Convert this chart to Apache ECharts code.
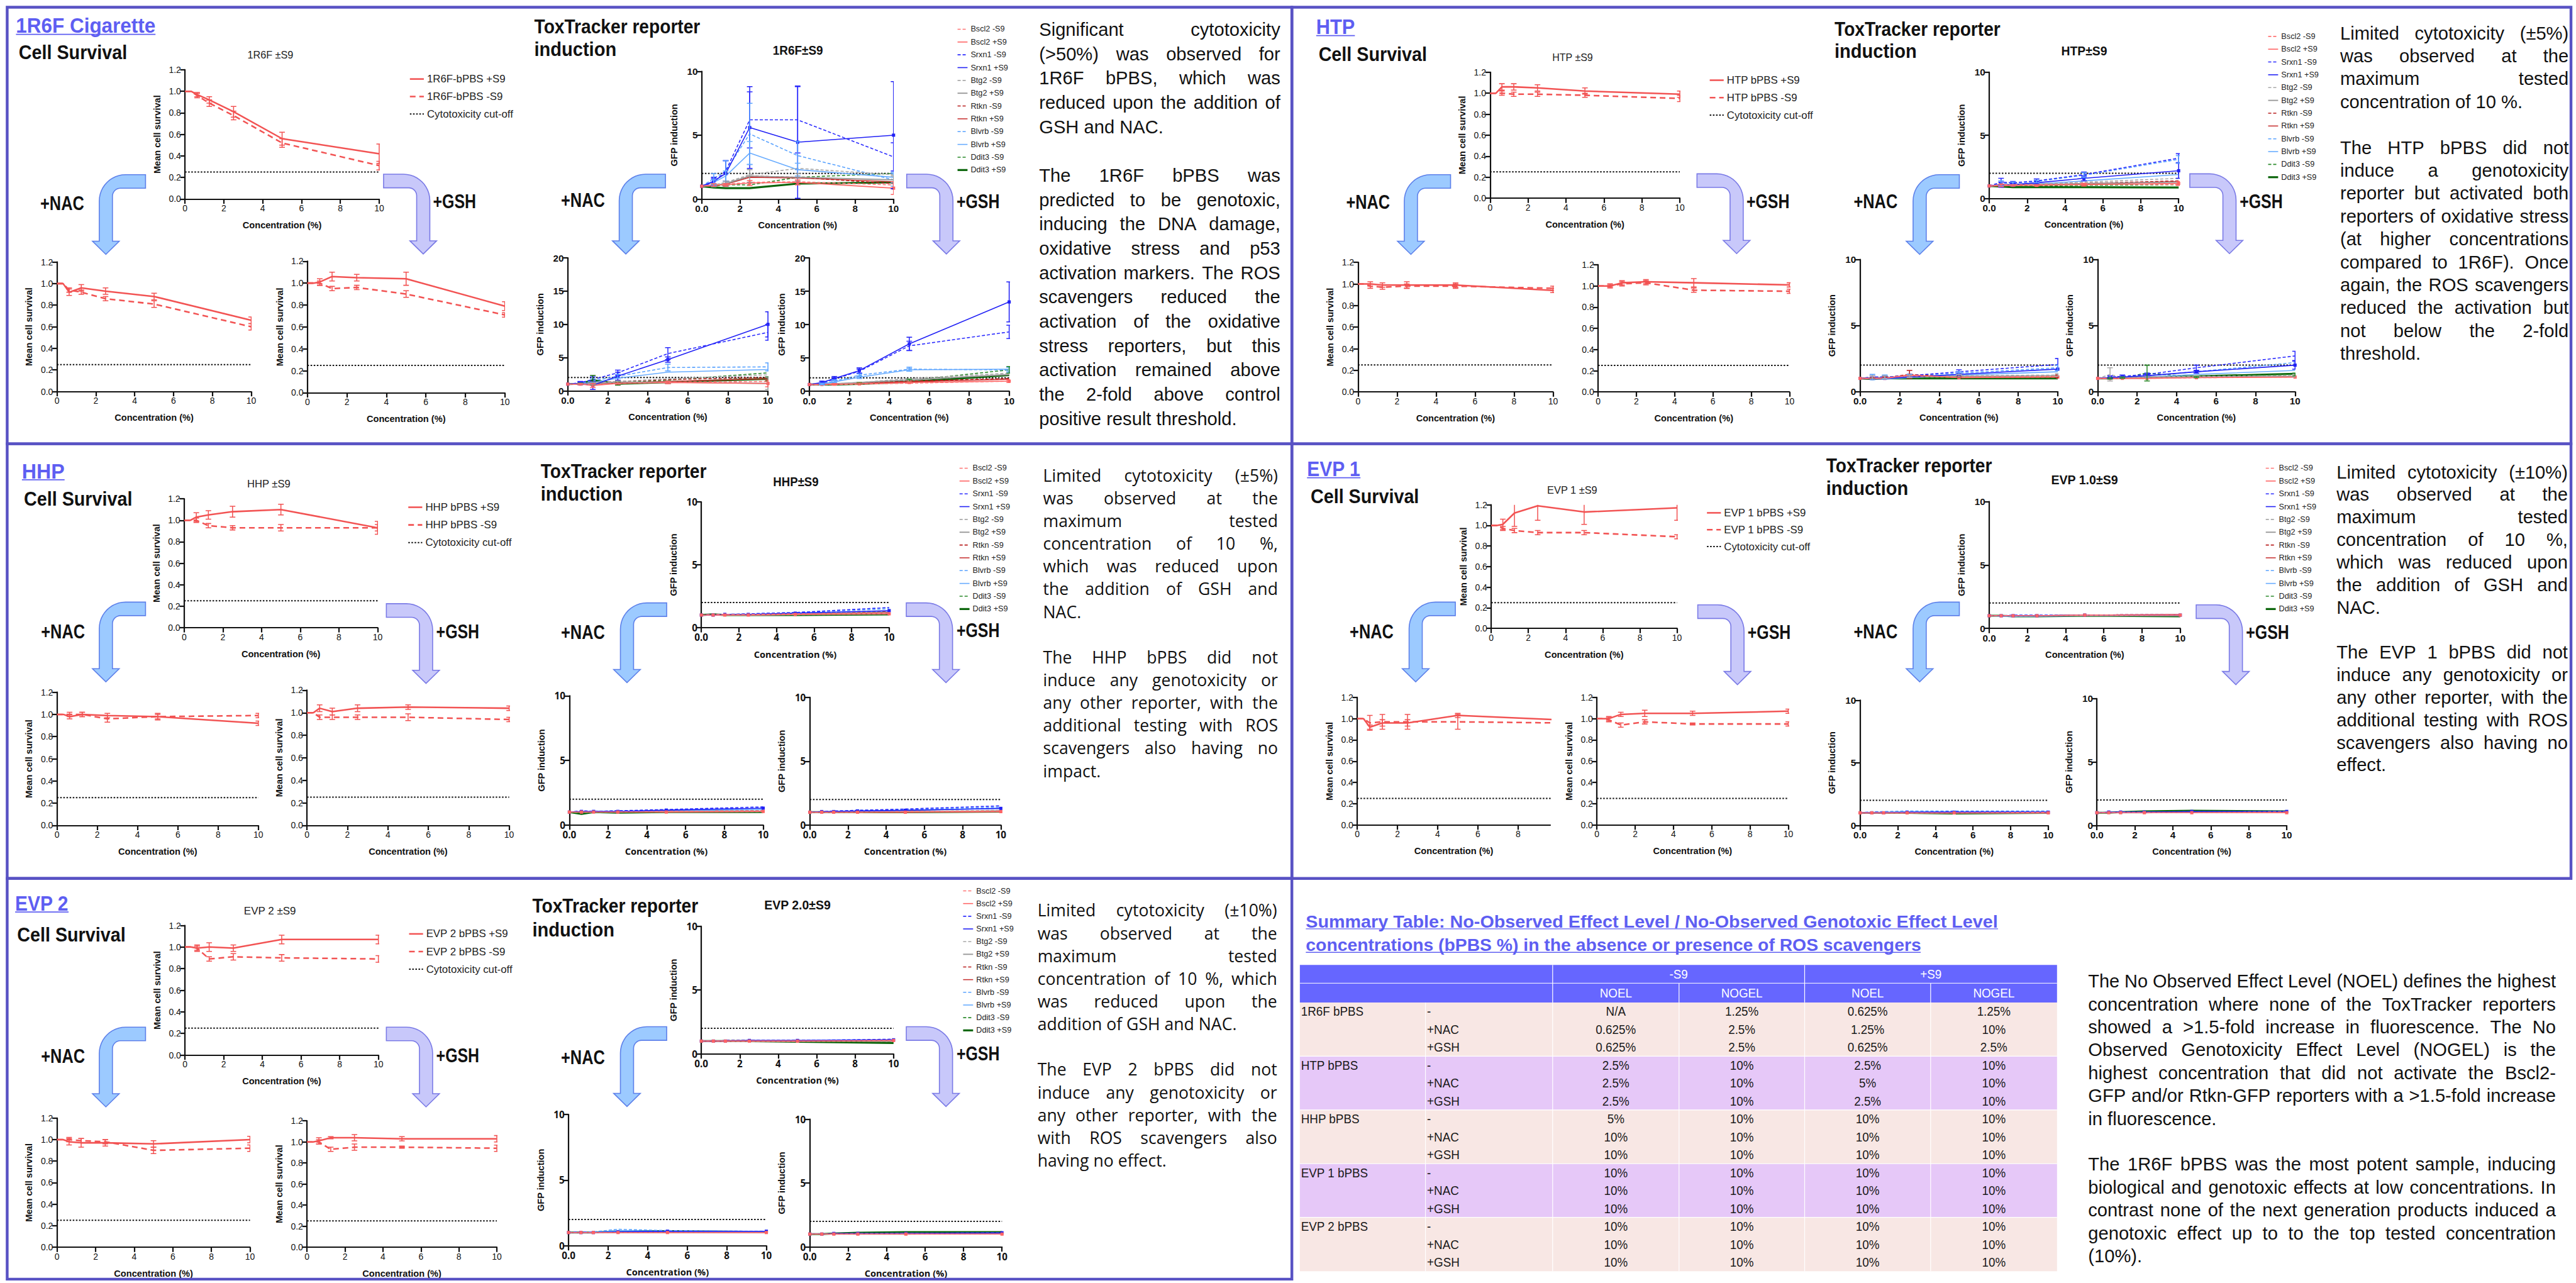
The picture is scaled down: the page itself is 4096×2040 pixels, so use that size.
<!DOCTYPE html>
<html>
<head>
<meta charset="utf-8">
<script src="https://cdn.jsdelivr.net/npm/echarts@6.0.0/dist/echarts.min.js"></script>
<style>
  html, body { margin: 0; padding: 0; background: #fff; }
  #main { width: 4096px; height: 2040px; }
</style>
</head>
<body>
<div id="main"></div>
<script>
// ---------- data ----------
const SURV_CONC = [0, 0.3125, 0.625, 1.25, 2.5, 5, 10];
const TOX_CONC = [0, 0.625, 1.25, 2.5, 5, 10];
const CUTOFF = 0.25;
const GFP_THRESHOLD = 2;

const REPORTERS = ['Bscl2 -S9', 'Bscl2 +S9', 'Srxn1 -S9', 'Srxn1 +S9', 'Btg2 -S9', 'Btg2 +S9',
                   'Rtkn -S9', 'Rtkn +S9', 'Blvrb -S9', 'Blvrb +S9', 'Ddit3 -S9', 'Ddit3 +S9'];

// survival rows: [+S9 mean], [+S9 err], [-S9 mean], [-S9 err]
const SURV_1R6F = [
  [1, 1, 0.97, 0.92, 0.81, 0.56, 0.42],
  [0, 0, 0.02, 0.03, 0.05, 0.06, 0.09],
  [1, 1, 0.96, 0.89, 0.775, 0.52, 0.31],
  [0, 0, 0.02, 0.03, 0.04, 0.04, 0.04]];
const SURV_1R6F_NAC = [
  [1, 1, 0.92, 0.96, 0.93, 0.88, 0.66],
  [0, 0, 0.03, 0.03, 0.03, 0.03, 0.03],
  [1, 1, 0.94, 0.92, 0.86, 0.81, 0.60],
  [0, 0, 0.02, 0.02, 0.02, 0.03, 0.03]];
const SURV_1R6F_GSH = [
  [1, 1, 1.01, 1.06, 1.05, 1.04, 0.79],
  [0, 0, 0.03, 0.04, 0.03, 0.06, 0.04],
  [1, 1, 1.0, 0.95, 0.96, 0.90, 0.71],
  [0, 0, 0.02, 0.02, 0.02, 0.03, 0.02]];
const SURV_HTP = [
  [1, 1, 1.06, 1.06, 1.05, 1.02, 0.99],
  [0, 0, 0.03, 0.03, 0.03, 0.03, 0.03],
  [1, 1, 1.0, 0.99, 0.99, 0.98, 0.95],
  [0, 0, 0.02, 0.02, 0.02, 0.02, 0.03]];
const SURV_HTP_NAC = [
  [1, 1, 1.0, 0.99, 0.99, 0.99, 0.94],
  [0, 0, 0.02, 0.02, 0.03, 0.02, 0.02],
  [1, 1, 0.98, 0.97, 0.98, 0.98, 0.96],
  [0, 0, 0.02, 0.02, 0.02, 0.02, 0.02]];
const SURV_HTP_GSH = [
  [1, 1, 1.0, 1.03, 1.04, 1.03, 1.01],
  [0, 0, 0.02, 0.02, 0.02, 0.04, 0.02],
  [1, 1, 1.0, 1.02, 1.03, 0.96, 0.95],
  [0, 0, 0.01, 0.02, 0.02, 0.02, 0.02]];
const SURV_HHP = [
  [1, 1, 1.03, 1.05, 1.08, 1.10, 0.93],
  [0, 0, 0.04, 0.04, 0.05, 0.05, 0.06],
  [1, 1, 1.0, 0.95, 0.93, 0.93, 0.93],
  [0, 0, 0.02, 0.02, 0.02, 0.03, 0.03]];
const SURV_HHP_NAC = [
  [1, 1, 0.98, 1.0, 0.99, 0.98, 0.92],
  [0, 0, 0.02, 0.02, 0.02, 0.03, 0.02],
  [1, 1, 1.0, 1.0, 0.96, 0.98, 0.99],
  [0, 0, 0.02, 0.02, 0.03, 0.02, 0.02]];
const SURV_HHP_GSH = [
  [1, 1, 1.04, 1.01, 1.04, 1.05, 1.04],
  [0, 0, 0.03, 0.03, 0.03, 0.02, 0.02],
  [1, 1, 0.96, 0.96, 0.96, 0.96, 0.94],
  [0, 0, 0.02, 0.02, 0.02, 0.03, 0.02]];
const SURV_EVP1 = [
  [1, 1, 1.01, 1.12, 1.19, 1.13, 1.17],
  [0, 0, 0.05, 0.13, 0.14, 0.12, 0.12],
  [1, 1, 0.97, 0.95, 0.93, 0.93, 0.89],
  [0, 0, 0.02, 0.02, 0.02, 0.02, 0.02]];
const SURV_EVP1_NAC = [
  [1, 1, 0.92, 0.96, 0.96, 1.03, 0.99],
  [0, 0, 0.02, 0.03, 0.03, 0.02, 0],
  [1, 1, 0.96, 0.97, 0.97, 0.97, 0.96],
  [0, 0, 0.07, 0.07, 0.07, 0.07, 0]];
const SURV_EVP1_GSH = [
  [1, 1, 1.0, 1.04, 1.05, 1.05, 1.07],
  [0, 0, 0.02, 0.02, 0.03, 0.02, 0.02],
  [1, 1, 0.99, 0.94, 0.97, 0.95, 0.95],
  [0, 0, 0.02, 0.02, 0.02, 0.01, 0.02]];
const SURV_EVP2 = [
  [1, 1, 0.99, 1.0, 0.99, 1.07, 1.07],
  [0, 0, 0.03, 0.04, 0.03, 0.04, 0.04],
  [1, 1, 0.99, 0.89, 0.91, 0.90, 0.89],
  [0, 0, 0.02, 0.02, 0.03, 0.03, 0.03]];
const SURV_EVP2_NAC = [
  [1, 1, 0.98, 0.97, 0.97, 0.96, 1.0],
  [0, 0, 0.03, 0.04, 0.03, 0.03, 0.03],
  [1, 1, 1.0, 0.99, 0.98, 0.90, 0.92],
  [0, 0, 0.02, 0.02, 0.02, 0.03, 0.03]];
const SURV_EVP2_GSH = [
  [1, 1, 1.01, 1.04, 1.04, 1.03, 1.03],
  [0, 0, 0.03, 0.01, 0.03, 0.02, 0.03],
  [1, 1, 1.0, 0.93, 0.95, 0.95, 0.94],
  [0, 0, 0.02, 0.02, 0.03, 0.01, 0.03]];

// ToxTracker rows follow REPORTERS order, columns follow TOX_CONC
const TOX_1R6F = [
  [1, 1.1, 1.15, 1.3, 1.35, 1.1],
  [1, 1.1, 1.1, 1.25, 1.3, 0.85],
  [1, 1.3, 2.2, 6.2, 6.2, 3.3],
  [1, 1.4, 2.0, 5.6, 4.45, 5.0],
  [1, 1.1, 1.3, 1.9, 2.4, 1.9],
  [1, 1.05, 1.2, 1.8, 1.7, 1.5],
  [1, 1.0, 1.2, 1.8, 1.7, 1.2],
  [1, 1.05, 1.15, 1.7, 1.65, 1.35],
  [1, 1.6, 2.2, 5.1, 3.4, 1.5],
  [1, 1.3, 1.8, 3.6, 2.3, 1.7],
  [1, 1.0, 1.1, 1.1, 1.7, 2.0],
  [1, 0.9, 0.85, 0.85, 1.2, 1.3]];
const TOX_1R6F_NAC = [
  [1, 1.0, 0.9, 1.1, 1.3, 1.4],
  [1, 1.0, 0.8, 1.1, 1.25, 1.1],
  [1, 1.2, 1.7, 2.7, 5.6, 8.8],
  [1, 1.1, 0.8, 2.2, 4.7, 10.0],
  [1, 1.0, 1.2, 1.4, 1.8, 2.4],
  [1, 1.0, 1.1, 1.3, 1.3, 1.1],
  [1, 1.0, 1.2, 1.4, 1.7, 2.0],
  [1, 1.0, 1.0, 1.2, 1.4, 1.8],
  [1, 1.1, 1.5, 2.2, 3.5, 3.6],
  [1, 1.1, 1.2, 1.9, 2.8, 3.2],
  [1, 1.0, 1.4, 1.2, 1.6, 2.7],
  [1, 1.05, 1.6, 1.05, 1.3, 1.8]];
const TOX_1R6F_GSH = [
  [1, 1.0, 1.0, 1.05, 1.2, 1.5],
  [1, 1.0, 1.05, 1.1, 1.3, 1.5],
  [1, 1.2, 1.8, 3.0, 6.8, 8.9],
  [1, 1.3, 1.9, 3.1, 7.1, 13.4],
  [1, 1.0, 1.1, 1.3, 1.9, 2.7],
  [1, 1.0, 1.1, 1.3, 1.7, 2.5],
  [1, 1.0, 1.05, 1.15, 1.5, 1.9],
  [1, 1.0, 1.05, 1.2, 1.4, 1.8],
  [1, 1.1, 1.5, 2.4, 3.3, 3.2],
  [1, 1.05, 1.4, 2.1, 3.2, 3.3],
  [1, 1.0, 1.05, 1.2, 1.6, 3.2],
  [1, 1.0, 1.0, 1.1, 1.4, 2.4]];
const TOX_HTP = [
  [1, 1.1, 1.1, 1.1, 1.15, 1.1],
  [1, 1.05, 1.05, 1.05, 1.1, 1.2],
  [1, 1.3, 1.25, 1.4, 1.9, 3.2],
  [1, 1.1, 1.1, 1.25, 1.6, 2.2],
  [1, 1.1, 1.1, 1.15, 1.3, 1.6],
  [1, 1.05, 1.05, 1.1, 1.2, 1.3],
  [1, 1.05, 1.1, 1.1, 1.2, 1.4],
  [1, 1.0, 1.05, 1.1, 1.15, 1.35],
  [1, 1.2, 1.2, 1.35, 1.85, 3.1],
  [1, 1.05, 1.05, 1.15, 1.4, 1.9],
  [1, 1.0, 1.0, 1.0, 1.05, 1.1],
  [1, 0.95, 0.9, 0.9, 0.9, 0.88]];
const TOX_HTP_NAC = [
  [1, 1.0, 1.05, 1.2, 1.1, 1.15],
  [1, 1.0, 1.0, 1.25, 1.05, 1.1],
  [1, 1.1, 1.1, 1.2, 1.5, 2.05],
  [1, 1.0, 1.0, 1.1, 1.3, 1.7],
  [1, 1.1, 1.1, 1.15, 1.2, 1.25],
  [1, 1.05, 1.05, 1.1, 1.15, 1.2],
  [1, 1.0, 1.05, 1.3, 1.1, 1.15],
  [1, 1.0, 1.0, 1.25, 1.05, 1.1],
  [1, 1.1, 1.1, 1.2, 1.4, 1.8],
  [1, 0.95, 0.95, 1.05, 1.25, 1.5],
  [1, 1.0, 1.0, 1.05, 1.05, 1.05],
  [1, 0.95, 1.0, 1.0, 1.0, 1.0]];
const TOX_HTP_GSH = [
  [1, 1.0, 1.0, 1.0, 1.05, 1.1],
  [1, 1.0, 1.0, 1.0, 1.05, 1.1],
  [1, 1.1, 1.15, 1.3, 1.8, 2.7],
  [1, 1.05, 1.1, 1.2, 1.5, 2.0],
  [1, 1.3, 1.05, 1.1, 1.15, 1.2],
  [1, 1.05, 1.05, 1.1, 1.1, 1.15],
  [1, 1.0, 1.05, 1.05, 1.1, 1.15],
  [1, 1.0, 1.0, 1.05, 1.1, 1.1],
  [1, 1.05, 1.1, 1.2, 1.5, 2.2],
  [1, 1.0, 1.05, 1.1, 1.3, 1.6],
  [1, 1.0, 1.05, 1.4, 1.1, 1.3],
  [1, 1.0, 1.05, 1.05, 1.15, 1.35]];
const TOX_HHP = [
  [1, 1.05, 1.05, 1.05, 1.1, 1.15],
  [1, 1.0, 1.0, 1.0, 1.05, 1.1],
  [1, 1.05, 1.05, 1.1, 1.2, 1.6],
  [1, 1.0, 1.05, 1.05, 1.15, 1.35],
  [1, 1.0, 1.0, 1.05, 1.1, 1.2],
  [1, 1.0, 1.0, 1.0, 1.05, 1.1],
  [1, 1.05, 1.05, 1.05, 1.1, 1.25],
  [1, 1.0, 1.0, 1.0, 1.05, 1.2],
  [1, 1.05, 1.05, 1.1, 1.2, 1.5],
  [1, 1.0, 1.0, 1.05, 1.15, 1.3],
  [1, 1.0, 1.0, 1.0, 1.0, 1.05],
  [1, 1.05, 1.0, 1.0, 1.0, 1.05]];
const TOX_HHP_NAC = [
  [1, 1.0, 1.0, 1.0, 1.05, 1.1],
  [1, 1.0, 1.0, 1.0, 1.0, 1.05],
  [1, 1.1, 1.05, 1.1, 1.2, 1.4],
  [1, 1.05, 1.05, 1.05, 1.15, 1.3],
  [1, 1.0, 1.0, 1.05, 1.05, 1.1],
  [1, 1.0, 1.0, 1.0, 1.05, 1.05],
  [1, 1.0, 1.0, 1.05, 1.05, 1.1],
  [1, 1.0, 1.0, 1.0, 1.0, 1.05],
  [1, 1.05, 1.05, 1.1, 1.15, 1.3],
  [1, 1.0, 1.05, 1.05, 1.1, 1.2],
  [1, 0.95, 1.0, 1.0, 1.0, 1.0],
  [1, 0.85, 1.0, 0.95, 1.0, 1.0]];
const TOX_HHP_GSH = [
  [1, 1.0, 1.0, 1.0, 1.05, 1.1],
  [1, 1.0, 1.0, 1.0, 1.0, 1.05],
  [1, 1.05, 1.1, 1.15, 1.25, 1.5],
  [1, 1.05, 1.05, 1.1, 1.15, 1.3],
  [1, 1.0, 1.0, 1.05, 1.05, 1.15],
  [1, 1.0, 1.0, 1.0, 1.05, 1.1],
  [1, 1.0, 1.0, 1.05, 1.05, 1.1],
  [1, 1.0, 1.0, 1.0, 1.0, 1.05],
  [1, 1.05, 1.05, 1.15, 1.2, 1.4],
  [1, 1.0, 1.05, 1.1, 1.15, 1.3],
  [1, 1.0, 1.0, 1.0, 1.05, 1.05],
  [1, 1.0, 1.0, 1.0, 1.0, 1.05]];
const TOX_EVP1 = [
  [1, 1.0, 1.0, 1.0, 1.05, 1.1],
  [1, 1.0, 1.0, 1.0, 1.05, 1.05],
  [1, 1.0, 1.05, 1.05, 1.05, 1.1],
  [1, 1.0, 1.0, 1.0, 1.05, 1.05],
  [1, 1.0, 1.0, 1.0, 1.0, 1.05],
  [1, 1.0, 1.0, 1.0, 1.0, 1.0],
  [1, 1.0, 1.0, 1.0, 1.05, 1.1],
  [1, 1.0, 1.0, 1.0, 1.05, 1.1],
  [1, 1.0, 0.95, 1.0, 1.05, 1.05],
  [1, 0.95, 0.95, 0.95, 1.0, 1.05],
  [1, 1.0, 1.0, 1.0, 1.0, 1.0],
  [1, 1.0, 0.95, 0.95, 1.0, 0.95]];
const TOX_EVP1_NAC = [
  [1, 1.0, 1.0, 1.0, 1.0, 1.05],
  [1, 1.0, 1.0, 1.0, 1.0, 1.0],
  [1, 1.05, 1.05, 1.05, 1.1, 1.1],
  [1, 1.0, 1.0, 1.05, 1.05, 1.05],
  [1, 1.05, 1.05, 1.05, 1.05, 1.05],
  [1, 1.0, 1.0, 1.0, 1.0, 1.0],
  [1, 1.0, 1.0, 1.0, 1.0, 1.05],
  [1, 1.0, 1.0, 1.0, 1.0, 1.0],
  [1, 1.1, 1.1, 1.15, 1.15, 1.15],
  [1, 1.05, 1.05, 1.1, 1.1, 1.1],
  [1, 1.0, 1.0, 1.0, 1.0, 1.0],
  [1, 1.0, 1.0, 1.0, 0.95, 1.0]];
const TOX_EVP1_GSH = [
  [1, 1.0, 1.0, 1.0, 1.0, 1.05],
  [1, 1.0, 1.0, 1.0, 1.0, 1.0],
  [1, 1.0, 1.05, 1.05, 1.05, 1.05],
  [1, 1.05, 1.05, 1.05, 1.1, 1.1],
  [1, 1.0, 1.0, 1.05, 1.05, 1.05],
  [1, 1.0, 1.0, 1.0, 1.05, 1.05],
  [1, 1.0, 1.0, 1.0, 1.05, 1.05],
  [1, 1.0, 1.0, 1.0, 1.0, 1.05],
  [1, 1.0, 1.05, 1.05, 1.05, 1.1],
  [1, 1.0, 1.0, 1.05, 1.05, 1.05],
  [1, 1.0, 1.0, 1.05, 1.1, 1.1],
  [1, 1.0, 1.05, 1.1, 1.15, 1.1]];
const TOX_EVP2 = [
  [1, 1.0, 1.0, 1.0, 1.0, 1.05],
  [1, 1.0, 1.0, 1.0, 1.0, 1.05],
  [1, 1.0, 1.05, 1.05, 1.05, 1.15],
  [1, 1.0, 1.0, 1.05, 1.05, 1.1],
  [1, 1.0, 1.0, 1.0, 1.0, 1.0],
  [1, 1.0, 1.0, 1.0, 1.0, 1.0],
  [1, 1.0, 1.05, 1.05, 1.05, 1.05],
  [1, 1.0, 1.0, 1.0, 1.0, 1.0],
  [1, 1.0, 1.0, 1.0, 1.05, 1.1],
  [1, 1.0, 1.0, 1.0, 1.0, 1.05],
  [1, 1.0, 1.0, 1.0, 1.0, 0.95],
  [1, 1.0, 1.0, 1.0, 0.95, 0.85]];
const TOX_EVP2_NAC = [
  [1, 1.0, 1.0, 1.0, 1.0, 1.0],
  [1, 1.0, 1.0, 1.0, 1.0, 1.0],
  [1, 1.05, 1.0, 1.05, 1.1, 1.1],
  [1, 1.0, 1.0, 1.05, 1.1, 1.1],
  [1, 1.0, 1.0, 1.0, 1.05, 1.05],
  [1, 1.0, 1.0, 1.0, 1.0, 1.0],
  [1, 1.0, 1.0, 1.0, 1.0, 1.0],
  [1, 1.0, 1.0, 1.0, 1.0, 1.0],
  [1, 1.05, 1.05, 1.25, 1.15, 1.1],
  [1, 1.0, 1.0, 1.15, 1.1, 1.05],
  [1, 1.0, 1.0, 1.0, 1.05, 1.05],
  [1, 1.0, 1.0, 1.1, 1.1, 1.05]];
const TOX_EVP2_GSH = [
  [1, 1.0, 1.0, 1.0, 1.0, 1.0],
  [1, 1.0, 1.0, 1.0, 1.0, 1.0],
  [1, 1.0, 1.0, 1.0, 1.05, 1.05],
  [1, 1.0, 1.05, 1.05, 1.05, 1.1],
  [1, 1.0, 1.0, 1.0, 1.05, 1.05],
  [1, 1.0, 1.0, 1.0, 1.0, 1.05],
  [1, 1.0, 1.0, 1.0, 1.0, 1.0],
  [1, 1.0, 1.0, 1.0, 1.0, 1.0],
  [1, 1.0, 1.0, 1.05, 1.05, 1.1],
  [1, 1.0, 1.0, 1.0, 1.05, 1.05],
  [1, 1.0, 1.0, 1.05, 1.1, 1.1],
  [1, 1.0, 1.05, 1.1, 1.15, 1.15]];

// error bars: [reporter index, err at each TOX_CONC]
const TOX_1R6F_ERR = [
  [3, 0, 0.3, 1.0, 3.2, 4.4, 4.2],
  [2, 0, 0.3, 0.8, 2.2, 2.6, 1.1],
  [8, 0, 0.4, 0.8, 2.4, 1.1, 0.5],
  [9, 0, 0.2, 0.4, 0.9, 0.5, 0.4],
  [5, 0, 0.1, 0.2, 0.5, 0.3, 0.3],
  [1, 0, 0.1, 0.1, 0.2, 0.2, 0.5]];
const TOX_1R6F_NAC_ERR = [
  [3, 0, 0.2, 0.6, 0.6, 0.4, 1.9],
  [2, 0, 0.2, 0.4, 0.4, 0.9, 1.2],
  [8, 0, 0.1, 0.3, 0.3, 0.5, 0.6],
  [11, 0, 0.1, 0.7, 0.2, 0.2, 0.3],
  [5, 0, 0.1, 0.2, 0.2, 0.2, 0.9],
  [1, 0, 0.1, 0.3, 0.1, 0.2, 0.5]];
const TOX_1R6F_GSH_ERR = [
  [3, 0, 0.2, 0.3, 0.4, 1.0, 3.0],
  [2, 0, 0.1, 0.2, 0.3, 0.7, 1.0],
  [8, 0, 0.1, 0.2, 0.2, 0.3, 0.4],
  [9, 0, 0.1, 0.2, 0.2, 0.2, 0.3],
  [10, 0, 0, 0, 0.1, 0.2, 0.5],
  [1, 0, 0, 0.1, 0.1, 0.1, 0.2]];
const TOX_HTP_ERR = [
  [2, 0, 0.3, 0.1, 0.15, 0.2, 0.35],
  [3, 0, 0.2, 0.1, 0.1, 0.2, 0.6],
  [8, 0, 0.2, 0.1, 0.1, 0.2, 0.3],
  [1, 0, 0.1, 0.05, 0.05, 0.1, 0.15]];
const TOX_HTP_NAC_ERR = [
  [2, 0, 0.1, 0.1, 0.1, 0.15, 0.45],
  [6, 0, 0.05, 0.05, 0.3, 0.05, 0.1],
  [8, 0, 0.2, 0.15, 0.1, 0.1, 0.2],
  [4, 0, 0.1, 0.1, 0.1, 0.1, 0.1]];
const TOX_HTP_GSH_ERR = [
  [2, 0, 0.1, 0.1, 0.1, 0.2, 0.35],
  [3, 0, 0.05, 0.05, 0.1, 0.1, 0.3],
  [4, 0, 0.5, 0.05, 0.05, 0.05, 0.1],
  [10, 0, 0.05, 0.05, 0.6, 0.05, 0.1]];

// summary table
const TABLE_PRODUCTS = ['1R6F bPBS', 'HTP bPBS', 'HHP bPBS', 'EVP 1 bPBS', 'EVP 2 bPBS'];
const TABLE_TREATMENTS = ['-', '+NAC', '+GSH'];
const NOEL_MINUS_S9 = ['N/A', '0.625%', '0.625%', '2.5%', '2.5%', '2.5%', '5%', '10%', '10%', '10%', '10%', '10%', '10%', '10%', '10%'];
const NOGEL_MINUS_S9 = ['1.25%', '2.5%', '2.5%', '10%', '10%', '10%', '10%', '10%', '10%', '10%', '10%', '10%', '10%', '10%', '10%'];
const NOEL_PLUS_S9 = ['0.625%', '1.25%', '0.625%', '2.5%', '5%', '2.5%', '10%', '10%', '10%', '10%', '10%', '10%', '10%', '10%', '10%'];
const NOGEL_PLUS_S9 = ['1.25%', '10%', '2.5%', '10%', '10%', '10%', '10%', '10%', '10%', '10%', '10%', '10%', '10%', '10%', '10%'];

const TEXT_1R6F = [
  'Significant cytotoxicity', '(>50%) was observed for', '1R6F bPBS, which was',
  'reduced upon the addition of', 'GSH and NAC.', '',
  'The 1R6F bPBS was', 'predicted to be genotoxic,', 'inducing the DNA damage,',
  'oxidative stress and p53', 'activation markers. The ROS', 'scavengers reduced the',
  'activation of the oxidative', 'stress reporters, but this', 'activation remained above',
  'the 2-fold above control', 'positive result threshold.'];
const TEXT_HTP = [
  'Limited cytotoxicity (±5%)', 'was observed at the', 'maximum tested', 'concentration of 10 %.', '',
  'The HTP bPBS did not', 'induce a genotoxicity', 'reporter but activated both',
  'reporters of oxidative stress', '(at higher concentrations', 'compared to 1R6F). Once',
  'again, the ROS scavengers', 'reduced the activation but', 'not below the 2-fold', 'threshold.'];
const TEXT_HHP = [
  'Limited cytotoxicity (±5%)', 'was observed at the', 'maximum tested', 'concentration of 10 %,',
  'which was reduced upon', 'the addition of GSH and', 'NAC.', '',
  'The HHP bPBS did not', 'induce any genotoxicity or', 'any other reporter, with the',
  'additional testing with ROS', 'scavengers also having no', 'impact.'];
const TEXT_EVP1 = [
  'Limited cytotoxicity (±10%)', 'was observed at the', 'maximum tested', 'concentration of 10 %,',
  'which was reduced upon', 'the addition of GSH and', 'NAC.', '',
  'The EVP 1 bPBS did not', 'induce any genotoxicity or', 'any other reporter, with the',
  'additional testing with ROS', 'scavengers also having no', 'effect.'];
const TEXT_EVP2 = [
  'Limited cytotoxicity (±10%)', 'was observed at the', 'maximum tested', 'concentration of 10 %, which',
  'was reduced upon the', 'addition of GSH and NAC.', '',
  'The EVP 2 bPBS did not', 'induce any genotoxicity or', 'any other reporter, with the',
  'with ROS scavengers also', 'having no effect.'];
const TEXT_SUMMARY = [
  'The No Observed Effect Level (NOEL) defines the highest',
  'concentration where none of the ToxTracker reporters',
  'showed a >1.5-fold increase in fluorescence. The No',
  'Observed Genotoxicity Effect Level (NOGEL) is the',
  'highest concentration that did not activate the Bscl2-',
  'GFP and/or Rtkn-GFP reporters with a >1.5-fold increase',
  'in fluorescence.', '',
  'The 1R6F bPBS was the most potent sample, inducing',
  'biological and genotoxic effects at low concentrations. In',
  'contrast none of the next generation products induced a',
  'genotoxic effect up to to the top tested concentration',
  '(10%).'];

// ---------- styles & layout (reference pixels, scaled by S) ----------
const S = 0.634;
const NARROW = "'Liberation Sans Narrow','Liberation Sans',Arial,sans-serif";
const SANS = "'Liberation Sans',Arial,sans-serif";
const WIDE = "'Open Sans','Noto Sans','DejaVu Sans',sans-serif";
const BORDER = '#5852c4';
const LINK = '#5e5ef2';
const RED = '#f25353';
const DOTS = { color: '#111', width: 2, type: [2.5, 2.5] };

const TOX_STYLE = [
  { c: '#ff7373', dash: [5, 3], w: 2.5 },
  { c: '#ff6464', dash: 'solid', w: 2.5, sym: 'rect' },
  { c: '#2b2bff', dash: [5, 3], w: 2.5 },
  { c: '#2020f5', dash: 'solid', w: 2.5, sym: 'rect' },
  { c: '#a8a8a8', dash: [5, 3], w: 2.5 },
  { c: '#999999', dash: 'solid', w: 3 },
  { c: '#b81c1c', dash: [5, 3], w: 2.5 },
  { c: '#c83434', dash: 'solid', w: 2.5 },
  { c: '#58a2ff', dash: [5, 3], w: 2.5 },
  { c: '#68acff', dash: 'solid', w: 2.5 },
  { c: '#2a8a2a', dash: [5, 3], w: 2.5 },
  { c: '#0b650b', dash: 'solid', w: 5 }];

const PANELS = [
  { name: '1R6F Cigarette', nameW: 350, nameAt: [40, 64], cellAt: [47, 132],
    sTitle: '1R6F ±S9', sTitleAt: [678, 138], sTitleW: 115, series: ['1R6F-bPBS +S9', '1R6F-bPBS -S9'],
    sTop: [464, 951, 175, 499], sNac: [143, 630, 657, 982], sGsh: [771, 1266, 655, 985],
    sData: [SURV_1R6F, SURV_1R6F_NAC, SURV_1R6F_GSH], sLeg: [1026, 198, 43.5],
    sArrows: [[232, 438], [962, 437]], sLabels: [[156, 510], [1140, 506]],
    tHead: [1340, 67, 124], tTitle: '1R6F±S9', tTitleAt: [2001, 126], tTitleW: 126,
    tTop: [1760, 2241, 179, 499], tNac: [1424, 1926, 647, 980], tGsh: [2030, 2531, 647, 981], tMax: [10, 20, 20],
    tData: [TOX_1R6F, TOX_1R6F_NAC, TOX_1R6F_GSH], tErr: [TOX_1R6F_ERR, TOX_1R6F_NAC_ERR, TOX_1R6F_GSH_ERR],
    tLeg: [2399, 73, 31.6], tArrows: [[1536, 437], [2274, 437]], tLabels: [[1462, 502], [2453, 506]],
    text: TEXT_1R6F, textBox: [2606, 74, 605, 61] },
  { name: 'HTP', nameW: 97, nameAt: [3301, 67], cellAt: [3307, 136],
    sTitle: 'HTP ±S9', sTitleAt: [3944, 144], sTitleW: 102, series: ['HTP bPBS +S9', 'HTP bPBS -S9'],
    sTop: [3737, 4213, 181, 497], sNac: [3406, 3895, 658, 983], sGsh: [4008, 4488, 664, 983], noGshYName: true,
    sData: [SURV_HTP, SURV_HTP_NAC, SURV_HTP_GSH], sLeg: [4286, 201, 43.5],
    sArrows: [[3505, 438], [4256, 436]], sLabels: [[3431, 507], [4434, 505]],
    tHead: [4601, 72, 128], tTitle: 'HTP±S9', tTitleAt: [5227, 128], tTitleW: 115,
    tTop: [4989, 5464, 181, 498], tNac: [4665, 5161, 651, 982], tGsh: [5261, 5756, 651, 982], tMax: [10, 10, 10],
    tData: [TOX_HTP, TOX_HTP_NAC, TOX_HTP_GSH], tErr: [TOX_HTP_ERR, TOX_HTP_NAC_ERR, TOX_HTP_GSH_ERR],
    tLeg: [5686, 91, 31.6], tArrows: [[4781, 438], [5492, 436]], tLabels: [[4704, 506], [5671, 505]],
    text: TEXT_HTP, textBox: [5869, 83, 573, 57.4] },
  { name: 'HHP', nameW: 107, nameAt: [55, 1181], cellAt: [60, 1251],
    sTitle: 'HHP ±S9', sTitleAt: [674, 1214], sTitleW: 109, series: ['HHP bPBS +S9', 'HHP bPBS -S9'],
    sTop: [462, 947, 1251, 1574], sNac: [143, 648, 1736, 2070], sGsh: [770, 1277, 1731, 2070],
    sData: [SURV_HHP, SURV_HHP_NAC, SURV_HHP_GSH], sLeg: [1022, 1272, 44],
    sArrows: [[232, 1510], [969, 1514]], sLabels: [[158, 1584], [1148, 1584]],
    tHead: [1356, 1181, 1238], tTitle: 'HHP±S9', tTitleAt: [1996, 1208], tTitleW: 114,
    tTop: [1759, 2230, 1259, 1574], tNac: [1428, 1914, 1745, 2069], tGsh: [2031, 2510, 1749, 2069], tMax: [10, 10, 10],
    tData: [TOX_HHP, TOX_HHP_NAC, TOX_HHP_GSH], tErr: null, wide: true,
    tLeg: [2404, 1174, 31.6], tArrows: [[1539, 1512], [2273, 1512]], tLabels: [[1462, 1586], [2453, 1582]],
    text: TEXT_HHP, textBox: [2616, 1192, 589, 57] },
  { name: 'EVP 1', nameW: 134, nameAt: [3278, 1176], cellAt: [3287, 1245],
    sTitle: 'EVP 1 ±S9', sTitleAt: [3943, 1230], sTitleW: 126, series: ['EVP 1 bPBS +S9', 'EVP 1 bPBS -S9'],
    sTop: [3740, 4206, 1266, 1576], sNac: [3404, 3888, 1749, 2069], sGsh: [4005, 4485, 1749, 2069], nacXMax: 9.6,
    sData: [SURV_EVP1, SURV_EVP1_NAC, SURV_EVP1_GSH], sLeg: [4279, 1286, 42],
    sArrows: [[3517, 1510], [4258, 1517]], sLabels: [[3440, 1584], [4437, 1586]],
    tHead: [4580, 1168, 1225], tTitle: 'EVP 1.0±S9', tTitleAt: [5228, 1204], tTitleW: 168,
    tTop: [4989, 5468, 1258, 1576], tNac: [4665, 5137, 1756, 2070], tGsh: [5259, 5735, 1752, 2070], tMax: [10, 10, 10],
    tData: [TOX_EVP1, TOX_EVP1_NAC, TOX_EVP1_GSH], tErr: null,
    tLeg: [5680, 1174, 31.6], tArrows: [[4781, 1510], [5508, 1517]], tLabels: [[4704, 1584], [5687, 1586]],
    text: TEXT_EVP1, textBox: [5860, 1184, 580, 56.5] },
  { name: 'EVP 2', nameW: 134, nameAt: [38, 2265], cellAt: [43, 2344],
    sTitle: 'EVP 2 ±S9', sTitleAt: [677, 2284], sTitleW: 131, series: ['EVP 2 bPBS +S9', 'EVP 2 bPBS -S9'],
    sTop: [464, 949, 2321, 2646], sNac: [143, 627, 2804, 3128], sGsh: [770, 1246, 2811, 3128],
    sData: [SURV_EVP2, SURV_EVP2_NAC, SURV_EVP2_GSH], sLeg: [1024, 2342, 44],
    sArrows: [[232, 2576], [969, 2576]], sLabels: [[158, 2650], [1148, 2648]],
    tHead: [1335, 2271, 2331], tTitle: 'EVP 2.0±S9', tTitleAt: [2000, 2269], tTitleW: 167,
    tTop: [1759, 2241, 2323, 2643], tNac: [1426, 1922, 2795, 3124], tGsh: [2031, 2513, 2807, 3127], tMax: [10, 10, 10],
    tData: [TOX_EVP2, TOX_EVP2_NAC, TOX_EVP2_GSH], tErr: null, wide: true,
    tLeg: [2413, 2234, 31.3], tArrows: [[1539, 2575], [2273, 2575]], tLabels: [[1462, 2652], [2453, 2643]],
    text: TEXT_EVP2, textBox: [2602, 2283, 601, 57] }];

// ---------- builders ----------
const G = [];
const option = { animation: false, backgroundColor: '#fff', grid: [], xAxis: [], yAxis: [], series: [], legend: [], graphic: { elements: G } };

const mctx = document.createElement('canvas').getContext('2d');
function textWidth(str, px, weight, fam) {
  mctx.font = weight + ' ' + px + 'px ' + fam;
  return mctx.measureText(str).width;
}

function label(str, x, y, size, o) {
  o = o || {};
  const fs = size * S, weight = o.bold ? 'bold' : 'normal', fam = o.family || SANS;
  const natural = textWidth(str, fs, weight, fam);
  const k = o.width ? (o.width * S) / natural : (o.k || 1);
  G.push({ type: 'text', x: x * S, y: y * S, scaleX: k, silent: true, z: 10,
    style: { text: str, fontSize: fs, fontWeight: weight, fontFamily: fam, fill: o.color || '#111',
             align: o.align || 'left', verticalAlign: 'middle' } });
  if (o.underline) {
    const w = natural * k;
    const x0 = o.align === 'center' ? x * S - w / 2 : x * S;
    const uy = (y + size * 0.42) * S;
    G.push({ type: 'line', silent: true, z: 10, shape: { x1: x0, y1: uy, x2: x0 + w, y2: uy },
      style: { stroke: o.color, lineWidth: Math.max(1, size * 0.05 * S) } });
  }
}

function paragraph(lines, box, size, fam) {
  const [x, y0, W, lh] = box;
  const fs = size * S, Wp = W * S;
  const sp = textWidth(' ', fs, 'normal', fam);
  lines.forEach((ln, i) => {
    if (!ln) return;
    const last = i === lines.length - 1 || !lines[i + 1];
    const words = ln.split(' ');
    const ws = words.map(w => textWidth(w, fs, 'normal', fam));
    const sum = ws.reduce((a, b) => a + b, 0);
    const n = words.length;
    let k = 1, gap = sp;
    if (sum + sp * (n - 1) > Wp) { k = Wp / (sum + sp * (n - 1)); gap = sp * k; }
    else if (!last && n > 1) gap = (Wp - sum) / (n - 1);
    let cx = x * S;
    const cy = (y0 + i * lh) * S;
    words.forEach((w, j) => {
      G.push({ type: 'text', x: cx, y: cy, scaleX: k, silent: true, z: 10,
        style: { text: w, fontSize: fs, fontFamily: fam, fill: '#111', align: 'left', verticalAlign: 'middle' } });
      cx += ws[j] * k + gap;
    });
  });
}

function frame(x0, y0, x1, y1) {
  G.push({ type: 'rect', silent: true, z: 1, shape: { x: x0 * S, y: y0 * S, width: (x1 - x0) * S, height: (y1 - y0) * S },
    style: { fill: 'none', stroke: BORDER, lineWidth: 7 * S } });
}

function cubic(p0, p1, p2, p3, n) {
  const pts = [];
  for (let i = 1; i <= n; i++) {
    const t = i / n, u = 1 - t;
    pts.push([u * u * u * p0[0] + 3 * u * u * t * p1[0] + 3 * u * t * t * p2[0] + t * t * t * p3[0],
              u * u * u * p0[1] + 3 * u * u * t * p1[1] + 3 * u * t * t * p2[1] + t * t * t * p3[1]]);
  }
  return pts;
}
function arrow(at, mirror) {
  let pts = [[133, 0], [83, 0]];
  pts = pts.concat(cubic([83, 0], [46.6, 0], [17, 29.6], [17, 66], 12));
  pts.push([17, 167], [0, 167], [33.5, 200], [67, 167], [50, 167], [50, 54]);
  pts = pts.concat(cubic([50, 54], [50, 43], [59, 34], [70, 34], 8));
  pts.push([133, 34]);
  const points = pts.map(p => [(at[0] + (mirror ? 133 - p[0] : p[0])) * S, (at[1] + p[1]) * S]);
  G.push({ type: 'polygon', silent: true, z: 2, shape: { points },
    style: { fill: mirror ? '#c8c8fa' : '#9ccaff', stroke: mirror ? '#7a7ae6' : '#5d80ea', lineWidth: 1.6 } });
}

function addGrid(box, tox, xMax, yMax, yInt, o) {
  const gi = option.grid.length;
  const [l, r, t, b] = box;
  option.grid.push({ left: l * S, top: t * S, width: (r - l) * S, height: (b - t) * S, containLabel: false, outerBoundsMode: 'none' });
  const fam = o.wide ? WIDE : NARROW;
  const line = { show: true, onZero: false, lineStyle: { color: '#111', width: 3.5 * S } };
  const tick = { show: true, inside: false, length: 12 * S, lineStyle: { color: '#111', width: 3.5 * S } };
  const lblSize = (tox ? 24 : 22) * S, lblWeight = tox ? 'bold' : 'normal';
  const x = { gridIndex: gi, type: 'value', min: 0, max: xMax, interval: 2, axisLine: line,
    axisTick: Object.assign({}, tick), splitLine: { show: false },
    axisLabel: { fontSize: lblSize, fontWeight: lblWeight, fontFamily: fam, color: '#111', margin: 12 * S,
                 formatter: v => (tox && v === 0 ? '0.0' : String(v)) },
    name: 'Concentration (%)', nameLocation: 'middle', nameGap: 54 * S,
    nameTextStyle: { fontSize: 23 * S, fontWeight: 'bold', fontFamily: fam, color: '#111' } };
  if (o.xTicks) { x.axisTick.customValues = o.xTicks; x.axisLabel.customValues = o.xTicks; }
  option.xAxis.push(x);
  option.yAxis.push({ gridIndex: gi, type: 'value', min: 0, max: yMax, interval: yInt, axisLine: line, axisTick: tick,
    splitLine: { show: false },
    axisLabel: { fontSize: lblSize, fontWeight: lblWeight, fontFamily: fam, color: '#111', margin: 10 * S,
                 formatter: v => (tox ? String(v) : v.toFixed(1)) },
    name: o.noYName ? '' : (tox ? 'GFP induction' : 'Mean cell survival'), nameLocation: 'middle', nameGap: 58 * S,
    nameTextStyle: { fontSize: 23 * S, fontWeight: 'bold', fontFamily: SANS, color: '#111' } });
  return gi;
}

function errorSeries(gi, xs, mean, err, color, width) {
  const data = [];
  xs.forEach((x, i) => { if (err[i] > 0) data.push([x, mean[i] - err[i], mean[i] + err[i]]); });
  return { type: 'custom', xAxisIndex: gi, yAxisIndex: gi, data, silent: true, z: 3, clip: true,
    encode: { x: 0, y: [1, 2] },
    renderItem: (params, api) => {
      const top = api.coord([api.value(0), api.value(2)]);
      const bot = api.coord([api.value(0), api.value(1)]);
      const hw = 7 * S;
      const style = { stroke: color, lineWidth: width, fill: null };
      return { type: 'group', children: [
        { type: 'line', shape: { x1: top[0], y1: top[1], x2: bot[0], y2: bot[1] }, style },
        { type: 'line', shape: { x1: top[0] - hw, y1: top[1], x2: top[0] + hw, y2: top[1] }, style },
        { type: 'line', shape: { x1: bot[0] - hw, y1: bot[1], x2: bot[0] + hw, y2: bot[1] }, style }] };
    } };
}

function survivalChart(box, rows, names, o) {
  const xMax = o.xMax || 10;
  const gi = addGrid(box, false, xMax, 1.2, 0.2, { noYName: o.noYName, xTicks: o.xMax ? [0, 2, 4, 6, 8] : null });
  const [pm, pe, mm, me] = rows;
  option.series.push({ name: 'Cytotoxicity cut-off', type: 'line', xAxisIndex: gi, yAxisIndex: gi,
    data: [[0, CUTOFF], [10, CUTOFF]], symbol: 'none', silent: true, z: 1, lineStyle: DOTS });
  option.series.push({ name: names[1], type: 'line', xAxisIndex: gi, yAxisIndex: gi,
    data: SURV_CONC.map((x, i) => [x, mm[i]]), symbol: 'none', silent: true, z: 2,
    itemStyle: { color: RED }, lineStyle: { color: RED, width: 4 * S, type: [9, 6] } });
  option.series.push({ name: names[0], type: 'line', xAxisIndex: gi, yAxisIndex: gi,
    data: SURV_CONC.map((x, i) => [x, pm[i]]), symbol: 'none', silent: true, z: 2,
    itemStyle: { color: RED }, lineStyle: { color: RED, width: 4 * S, type: 'solid' } });
  option.series.push(errorSeries(gi, SURV_CONC, mm, me, RED, 2.4 * S));
  option.series.push(errorSeries(gi, SURV_CONC, pm, pe, RED, 2.4 * S));
}

function toxChart(box, rows, errs, yMax, o) {
  const gi = addGrid(box, true, 10, yMax, 5, o);
  option.series.push({ type: 'line', xAxisIndex: gi, yAxisIndex: gi, data: [[0, GFP_THRESHOLD], [10, GFP_THRESHOLD]],
    symbol: 'none', silent: true, z: 1, lineStyle: DOTS });
  for (let r = rows.length - 1; r >= 0; r--) {
    const st = TOX_STYLE[r];
    option.series.push({ name: REPORTERS[r], type: 'line', xAxisIndex: gi, yAxisIndex: gi,
      data: TOX_CONC.map((x, i) => [x, rows[r][i]]), symbol: st.sym || 'none', symbolSize: 8 * S, silent: true, z: 2,
      itemStyle: { color: st.c }, lineStyle: { color: st.c, width: st.w * S, type: st.dash } });
  }
  if (errs) errs.forEach(e => option.series.push(errorSeries(gi, TOX_CONC, rows[e[0]], e.slice(1), TOX_STYLE[e[0]].c, 2.4 * S)));
}

function addLegend(at, names, size, iconW) {
  const fs = size * S;
  option.legend.push({ orient: 'vertical', left: at[0] * S, top: at[1] * S - fs / 2, padding: 0,
    itemWidth: iconW * S, itemHeight: 8, itemGap: at[2] * S - fs, selectedMode: false,
    data: names, itemStyle: { color: 'rgba(0,0,0,0)', borderColor: 'rgba(0,0,0,0)', borderWidth: 0, opacity: 0 },
    lineStyle: { width: 'inherit' },
    textStyle: { fontSize: fs, fontFamily: NARROW, color: '#222' } });
}

function buildPanel(p) {
  label(p.name, p.nameAt[0], p.nameAt[1], 53, { bold: true, color: LINK, width: p.nameW, underline: true });
  label('Cell Survival', p.cellAt[0], p.cellAt[1], 48, { bold: true, width: 272 });
  label(p.sTitle, p.sTitleAt[0], p.sTitleAt[1], 27, { width: p.sTitleW, align: 'center', family: NARROW, color: '#222' });
  survivalChart(p.sTop, p.sData[0], p.series, {});
  survivalChart(p.sNac, p.sData[1], p.series, { xMax: p.nacXMax });
  survivalChart(p.sGsh, p.sData[2], p.series, { noYName: p.noGshYName });
  addLegend(p.sLeg, [p.series[0], p.series[1], 'Cytotoxicity cut-off'], 26.5, 35);
  arrow(p.sArrows[0], false);
  arrow(p.sArrows[1], true);
  label('+NAC', p.sLabels[0][0], p.sLabels[0][1], 48, { bold: true, width: 110, align: 'center' });
  label('+GSH', p.sLabels[1][0], p.sLabels[1][1], 48, { bold: true, width: 108, align: 'center' });

  label('ToxTracker reporter', p.tHead[0], p.tHead[1], 48, { bold: true, width: 416 });
  label('induction', p.tHead[0], p.tHead[2], 48, { bold: true, width: 206 });
  label(p.tTitle, p.tTitleAt[0], p.tTitleAt[1], 32, { bold: true, width: p.tTitleW, align: 'center' });
  const errs = p.tErr || [null, null, null];
  toxChart(p.tTop, p.tData[0], errs[0], p.tMax[0], { wide: p.wide });
  toxChart(p.tNac, p.tData[1], errs[1], p.tMax[1], { wide: p.wide });
  toxChart(p.tGsh, p.tData[2], errs[2], p.tMax[2], { wide: p.wide });
  addLegend(p.tLeg, REPORTERS, 20, 25);
  arrow(p.tArrows[0], false);
  arrow(p.tArrows[1], true);
  label('+NAC', p.tLabels[0][0], p.tLabels[0][1], 48, { bold: true, width: 110, align: 'center' });
  label('+GSH', p.tLabels[1][0], p.tLabels[1][1], 48, { bold: true, width: 108, align: 'center' });

  paragraph(p.text, p.textBox, p.wide ? 42 : 46, p.wide ? WIDE : SANS);
}

function rect(x, y, w, h, fill) {
  G.push({ type: 'rect', silent: true, z: 1, shape: { x: x * S, y: y * S, width: w * S, height: h * S }, style: { fill } });
}
function hline(x0, x1, y, color, w) {
  G.push({ type: 'line', silent: true, z: 2, shape: { x1: x0 * S, y1: y * S, x2: x1 * S, y2: y * S }, style: { stroke: color, lineWidth: w } });
}
function vline(x, y0, y1, color, w) {
  G.push({ type: 'line', silent: true, z: 2, shape: { x1: x * S, y1: y0 * S, x2: x * S, y2: y1 * S }, style: { stroke: color, lineWidth: w } });
}

function drawTable() {
  const cx = [3260, 3575, 3894, 4211, 4526, 4842, 5159];
  const h0 = 2420, h1 = 2466, h2 = 2514, rh = 44.93;
  const W = cx[6] - cx[0];
  label('Summary Table: No-Observed Effect Level / No-Observed Genotoxic Effect Level', 3275, 2311, 44,
    { bold: true, color: LINK, width: 1736, underline: true });
  label('concentrations (bPBS %) in the absence or presence of ROS scavengers', 3275, 2370, 44,
    { bold: true, color: LINK, width: 1542, underline: true });
  rect(cx[0], h0, W, h2 - h0, '#6666ff');
  for (let g = 0; g < 5; g++) rect(cx[0], h2 + g * 3 * rh, W, 3 * rh, g % 2 ? '#e6c8f8' : '#f8e7e4');
  hline(cx[0], cx[6], h1, 'rgba(255,255,255,0.8)', 1.2);
  for (let g = 1; g < 5; g++) hline(cx[0], cx[6], h2 + g * 3 * rh, '#ffffff', 1.2);
  vline(cx[2], h0, h2, '#ffffff', 1.2);
  vline(cx[4], h0, h2, '#ffffff', 1.2);
  vline(cx[3], h1, h2, '#ffffff', 1.2);
  vline(cx[5], h1, h2, '#ffffff', 1.2);
  for (let c = 1; c < 6; c++) vline(cx[c], h2, h2 + 15 * rh, '#ffffff', 1.2);
  const tk = 0.9;
  label('-S9', (cx[2] + cx[4]) / 2, (h0 + h1) / 2, 33, { color: '#fff', align: 'center', k: tk });
  label('+S9', (cx[4] + cx[6]) / 2, (h0 + h1) / 2, 33, { color: '#fff', align: 'center', k: tk });
  ['NOEL', 'NOGEL', 'NOEL', 'NOGEL'].forEach((t, i) =>
    label(t, (cx[2 + i] + cx[3 + i]) / 2, (h1 + h2) / 2, 33, { color: '#fff', align: 'center', k: tk }));
  const cols = [NOEL_MINUS_S9, NOGEL_MINUS_S9, NOEL_PLUS_S9, NOGEL_PLUS_S9];
  for (let r = 0; r < 15; r++) {
    const y = h2 + (r + 0.5) * rh;
    if (r % 3 === 0) label(TABLE_PRODUCTS[r / 3], cx[0] + 3, y, 33, { k: tk, color: '#1a1a1a' });
    label(TABLE_TREATMENTS[r % 3], cx[1] + 4, y, 33, { k: tk, color: '#1a1a1a' });
    cols.forEach((col, c) => label(col[r], (cx[2 + c] + cx[3 + c]) / 2, y, 33, { k: tk, align: 'center', color: '#1a1a1a' }));
  }
  paragraph(TEXT_SUMMARY, [5237, 2461, 1173, 57.4], 46, SANS);
}

frame(18, 18, 3240, 1113);
frame(3240, 18, 6448, 1113);
frame(18, 1113, 3240, 2203);
frame(3240, 1113, 6448, 2203);
frame(18, 2203, 3240, 3208);
PANELS.forEach(buildPanel);
drawTable();

const chart = echarts.init(document.getElementById('main'), null, { renderer: 'svg' });
chart.setOption(option);
</script>
</body>
</html>
